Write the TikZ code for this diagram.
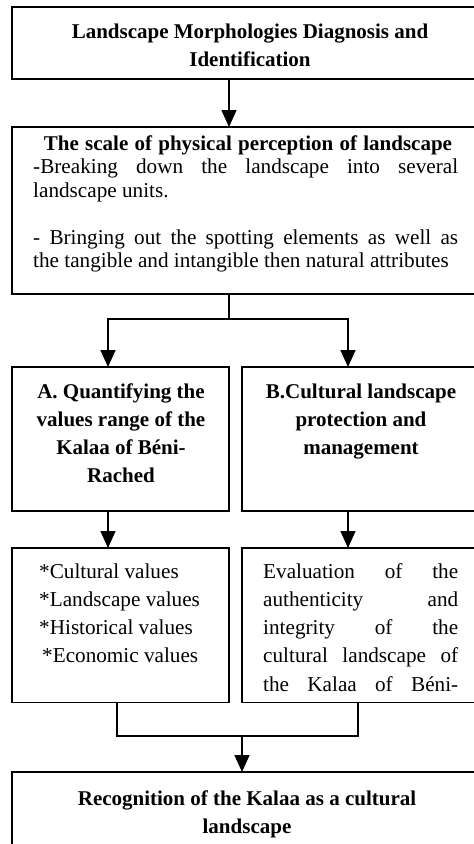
\documentclass[tikz,border=0pt]{standalone}
\usepackage{fontspec}
\setmainfont{Liberation Serif}
\usetikzlibrary{arrows.meta}
\newcommand{\natsp}{\spaceskip=0pt\relax\xspaceskip=0pt\relax}
\newcommand{\ctrsp}{\spaceskip=0pt\relax\xspaceskip=0pt\relax\leftskip=0pt plus 1fil\relax\rightskip=0pt plus 1fil\relax\parfillskip=0pt\relax}
\begin{document}
\begin{tikzpicture}[x=1pt,y=1pt,
  box/.style={draw, line width=1.6pt, inner sep=0pt, outer sep=0pt, anchor=north west},
  conn/.style={line width=1.6pt},
  arr/.style={conn, -{Triangle[width=15pt,length=17pt]}},
  bt/.style={font=\fontsize{21}{28}\selectfont\bfseries, align=center, inner sep=0pt},
  rt/.style={font=\fontsize{21.2}{23.5}\selectfont, align=left, inner sep=0pt},
  rtw/.style={font=\fontsize{21.2}{28.3}\selectfont, align=left, inner sep=0pt},
]
\useasboundingbox (0,0) rectangle (474,-844);
\clip (0,0) rectangle (474,-844);

% boxes
\node[box, minimum width=474pt, minimum height=72pt]    (b1) at (12,-7)   {};
\node[box, minimum width=474pt, minimum height=167pt]   (b2) at (12,-127) {};
\node[box, minimum width=217pt, minimum height=144pt]   (bA) at (12,-367) {};
\node[box, minimum width=240pt, minimum height=144pt]   (bB) at (242,-367) {};
\node[box, minimum width=217pt, minimum height=154.5pt] (bC) at (12,-548) {};
\node[box, minimum width=240pt, minimum height=154.5pt] (bD) at (242,-548) {};
\node[box, minimum width=474pt, minimum height=100pt]   (bE) at (12,-772) {};

% texts
\node[bt, anchor=base, text width=440pt] (t1) at (250,-38)
  {\ctrsp Landscape Morphologies Diagnosis and\\Identification};
\node[bt, anchor=base, text width=440pt] (t2) at (248,-150)
  {\ctrsp The scale of physical perception of landscape};
\node[rt, anchor=base west, text width=440pt] (t3) at (33,-173.5)
  {\natsp\makebox[425pt][s]{-Breaking down the landscape into several}\\
   landscape units.\\[23.5pt]
   \makebox[425pt][s]{- Bringing out the spotting elements as well as}\\
   \mbox{the tangible and intangible then natural attributes}};
\node[bt, anchor=base, text width=205pt] (tA) at (121,-398)
  {\ctrsp A. Quantifying the\\values range of the\\Kalaa of Béni-\\Rached};
\node[bt, anchor=base, text width=225pt] (tB) at (361,-398)
  {\ctrsp B.Cultural landscape\\protection and\\management};
\node[rtw, anchor=base west, text width=185pt] (tC) at (39,-578)
  {\natsp *Cultural values\\{}*Landscape values\\{}*Historical values\\{}\hspace*{3pt}*Economic values};
\node[rtw, anchor=base west, text width=200pt] (tD) at (263,-578)
  {\natsp\makebox[195pt][s]{Evaluation of the}\\
   \makebox[195pt][s]{authenticity and}\\
   \makebox[195pt][s]{integrity of the}\\
   \makebox[195pt][s]{cultural landscape of}\\
   \makebox[195pt][s]{the Kalaa of Béni-}};
\node[bt, anchor=base, text width=440pt] (tE) at (247,-805)
  {\ctrsp Recognition of the Kalaa as a cultural\\landscape};

% connector coordinates
\coordinate (x229) at (229,0);
\coordinate (j1) at (229,-319);
\coordinate (xA) at (108,0);
\coordinate (xB) at (348,0);
\coordinate (xC) at (117,0);
\coordinate (xD) at (358,0);
\coordinate (j2) at (242,-736);

% connectors
\draw[arr] (b1.south -| x229) -- (b2.north -| x229);
\draw[conn] (b2.south -| j1) -- (j1);
\draw[arr] (j1) -| (bA.north -| xA);
\draw[arr] (j1) -| (bB.north -| xB);
\draw[arr] (bA.south -| xA) -- (bC.north -| xA);
\draw[arr] (bB.south -| xB) -- (bD.north -| xB);
\draw[conn] (bC.south -| xC) |- (j2 -| xD) -- (bD.south -| xD);
\draw[arr] (j2) -- (bE.north -| j2);
\end{tikzpicture}
\end{document}
